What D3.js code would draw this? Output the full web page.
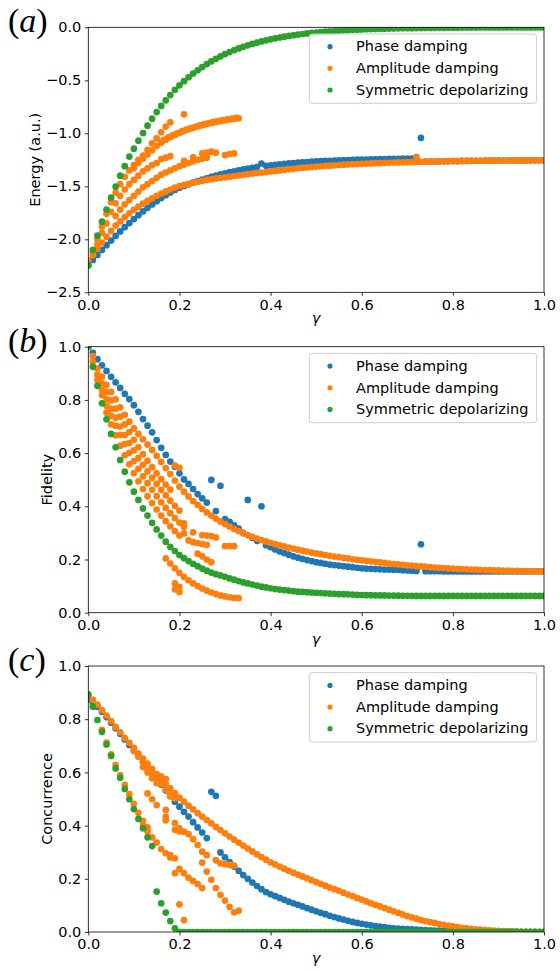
<!DOCTYPE html>
<html><head><meta charset="utf-8">
<script src="https://cdn.jsdelivr.net/npm/d3@7"></script>
<style>body{margin:0;background:#fff}svg{display:block}</style>
</head><body><svg id="c" width="560" height="971"></svg>
<script>
const gammas=[0,0.01,0.02,0.03,0.04,0.05,0.06,0.07,0.08,0.09,
0.1,0.11,0.12,0.13,0.14,0.15,0.16,0.17,0.18,0.19,
0.2,0.21,0.22,0.23,0.24,0.25,0.26,0.27,0.28,0.29,
0.3,0.31,0.32,0.33,0.34,0.35,0.36,0.37,0.38,0.39,
0.4,0.41,0.42,0.43,0.44,0.45,0.46,0.47,0.48,0.49,
0.5,0.51,0.52,0.53,0.54,0.55,0.56,0.57,0.58,0.59,
0.6,0.61,0.62,0.63,0.64,0.65,0.66,0.67,0.68,0.69,
0.7,0.71,0.72,0.73,0.74,0.75,0.76,0.77,0.78,0.79,
0.8,0.81,0.82,0.83,0.84,0.85,0.86,0.87,0.88,0.89,
0.9,0.91,0.92,0.93,0.94,0.95,0.96,0.97,0.98,0.99,1];

const seriesNames=["Phase damping","Amplitude damping","Symmetric depolarizing"];
const xTicks=[0,0.2,0.4,0.6,0.8,1.0];
const energyTicks=[0,-0.5,-1.0,-1.5,-2.0,-2.5];
const unitTicks=[0,0.2,0.4,0.6,0.8,1.0];

// ---- (a) Energy ----
const energyPhase=[-2.245,-2.195,-2.148,-2.100,-2.055,-2.012,-1.968,-1.926,-1.886,-1.847,
-1.809,-1.772,-1.737,-1.703,-1.671,-1.640,-1.611,-1.584,-1.558,-1.535,
-1.513,-1.497,-1.481,-1.466,-1.451,-1.437,-1.424,-1.411,-1.399,-1.388,
-1.377,-1.367,-1.358,-1.349,-1.341,-1.333,-1.326,-1.319,-1.285,-1.307,
-1.302,-1.297,-1.292,-1.288,-1.284,-1.280,-1.277,-1.274,-1.271,-1.268,
-1.265,-1.263,-1.261,-1.259,-1.257,-1.255,-1.253,-1.252,-1.250,-1.249,
-1.248,-1.247,-1.246,-1.245,-1.244,-1.243,-1.242,-1.241,-1.240,-1.239,
-1.238,-1.238,-1.237,-1.044,-1.268,-1.267,-1.266,-1.265,-1.264,-1.263,
-1.262,-1.262,-1.261,-1.260,-1.260,-1.259,-1.259,-1.258,-1.258,-1.258,
-1.257,-1.257,-1.257,-1.256,-1.256,-1.256,-1.256,-1.255,-1.255,-1.255,-1.255];
const energyAmp=[-2.200,-2.150,-2.090,-2.030,-1.975,-1.920,-1.870,-1.830,-1.790,-1.755,
-1.722,-1.692,-1.664,-1.638,-1.613,-1.590,-1.568,-1.548,-1.530,-1.513,
-1.497,-1.486,-1.476,-1.466,-1.457,-1.448,-1.440,-1.433,-1.426,-1.420,
-1.415,-1.409,-1.403,-1.397,-1.391,-1.386,-1.380,-1.375,-1.370,-1.365,
-1.360,-1.355,-1.350,-1.345,-1.340,-1.335,-1.330,-1.326,-1.322,-1.318,
-1.314,-1.311,-1.308,-1.305,-1.302,-1.299,-1.296,-1.294,-1.292,-1.290,
-1.288,-1.286,-1.284,-1.282,-1.281,-1.279,-1.278,-1.276,-1.275,-1.274,
-1.272,-1.271,-1.270,-1.269,-1.268,-1.267,-1.266,-1.265,-1.264,-1.263,
-1.262,-1.262,-1.261,-1.260,-1.260,-1.259,-1.259,-1.258,-1.258,-1.258,
-1.257,-1.257,-1.257,-1.256,-1.256,-1.256,-1.256,-1.255,-1.255,-1.255,-1.255];
const energyAmpExtra=[
[0.01,-2.12],[0.02,-2.05],
[0.02,-2.0],[0.03,-1.88],[0.04,-1.76],[0.05,-1.65],[0.06,-1.56],[0.07,-1.48],[0.08,-1.41],[0.09,-1.35],[0.10,-1.30],[0.11,-1.25],[0.12,-1.211],[0.13,-1.157],[0.14,-1.095],[0.15,-1.047],[0.16,-0.99],[0.17,-0.937],[0.18,-0.896],[0.21,-0.821],
[0.10,-1.33],[0.11,-1.28],[0.12,-1.24],[0.13,-1.20],[0.14,-1.16],[0.15,-1.12],[0.16,-1.09],[0.17,-1.06],[0.18,-1.035],[0.19,-1.015],[0.20,-0.995],[0.21,-0.978],[0.22,-0.962],[0.23,-0.948],[0.24,-0.935],[0.25,-0.923],[0.26,-0.912],[0.27,-0.902],[0.28,-0.893],[0.29,-0.885],[0.30,-0.877],[0.31,-0.870],[0.32,-0.864],[0.33,-0.858],
[0.165,-1.065],[0.175,-1.04],[0.185,-1.02],[0.195,-1.0],[0.205,-0.982],[0.215,-0.966],[0.225,-0.952],[0.235,-0.938],[0.245,-0.926],[0.255,-0.914],[0.265,-0.903],[0.275,-0.893],[0.285,-0.884],[0.295,-0.876],[0.305,-0.868],[0.315,-0.861],[0.325,-0.855],
[0.16,-1.243],[0.17,-1.23],[0.18,-1.215],[0.21,-1.26],[0.23,-1.227],[0.25,-1.19],[0.26,-1.183],[0.27,-1.173],[0.28,-1.183],[0.30,-1.205],[0.31,-1.196],[0.32,-1.19],
[0.22,-1.28],[0.23,-1.265],[0.24,-1.25],[0.25,-1.24],[0.26,-1.23],
[0.06,-1.78],[0.07,-1.72],[0.08,-1.67],[0.09,-1.63],[0.10,-1.59],[0.11,-1.55],[0.12,-1.51],[0.13,-1.48],[0.14,-1.45],[0.15,-1.42],[0.16,-1.39],[0.17,-1.37],[0.18,-1.35],[0.19,-1.33],[0.20,-1.31],[0.21,-1.295],
[0.03,-1.94],[0.04,-1.85],[0.05,-1.74],[0.06,-1.66],[0.07,-1.59],[0.08,-1.53],[0.09,-1.48],[0.10,-1.44],[0.11,-1.40],[0.12,-1.36],[0.13,-1.33],[0.14,-1.30],[0.15,-1.28],
[0.72,-1.222]];
const energySym=[-2.245,-2.100,-1.966,-1.834,-1.720,-1.607,-1.504,-1.400,-1.310,-1.220,
-1.145,-1.070,-0.997,-0.928,-0.862,-0.800,-0.742,-0.689,-0.639,-0.590,
-0.547,-0.508,-0.471,-0.437,-0.405,-0.375,-0.347,-0.321,-0.297,-0.274,
-0.253,-0.234,-0.216,-0.199,-0.184,-0.170,-0.157,-0.145,-0.133,-0.123,
-0.113,-0.104,-0.096,-0.088,-0.081,-0.075,-0.069,-0.063,-0.058,-0.053,
-0.049,-0.045,-0.041,-0.038,-0.035,-0.032,-0.029,-0.027,-0.024,-0.022,
-0.020,-0.018,-0.017,-0.015,-0.014,-0.013,-0.012,-0.011,-0.010,-0.009,
-0.008,-0.008,-0.007,-0.007,-0.006,-0.006,-0.005,-0.005,-0.005,-0.004,
-0.004,-0.004,-0.003,-0.003,-0.003,-0.003,-0.002,-0.002,-0.002,-0.002,
-0.002,-0.002,-0.001,-0.001,-0.001,-0.001,-0.001,-0.001,-0.001,-0.001,-0.001];

// ---- (b) Fidelity ----
const fidelityPhase=[1.000,0.977,0.953,0.930,0.909,0.887,0.866,0.845,0.823,0.803,
0.780,0.755,0.728,0.703,0.678,0.649,0.620,0.593,0.568,0.549,
0.524,0.501,0.484,0.465,0.446,0.430,0.414,0.499,0.382,0.477,
0.352,0.342,0.328,0.316,0.300,0.424,0.282,0.270,0.400,0.254,
0.246,0.238,0.230,0.224,0.218,0.212,0.207,0.202,0.198,0.194,
0.190,0.187,0.184,0.181,0.179,0.177,0.175,0.173,0.171,0.169,
0.167,0.166,0.165,0.164,0.163,0.162,0.162,0.161,0.161,0.160,
0.159,0.158,0.157,0.257,0.156,0.156,0.156,0.156,0.155,0.155,
0.155,0.155,0.155,0.155,0.155,0.155,0.155,0.155,0.155,0.155,
0.155,0.155,0.155,0.155,0.155,0.155,0.155,0.155,0.155,0.155,0.155];
const fidelityAmp=[1.000,0.965,0.918,0.888,0.857,0.830,0.802,0.772,0.744,0.718,
0.693,0.672,0.652,0.632,0.612,0.590,0.567,0.544,0.521,0.497,
0.474,0.455,0.437,0.420,0.405,0.390,0.377,0.365,0.354,0.343,
0.333,0.324,0.315,0.307,0.299,0.292,0.285,0.279,0.273,0.268,
0.263,0.258,0.253,0.249,0.245,0.241,0.237,0.233,0.230,0.226,
0.223,0.220,0.217,0.214,0.211,0.209,0.206,0.204,0.201,0.199,
0.197,0.195,0.193,0.191,0.189,0.187,0.185,0.183,0.182,0.180,
0.178,0.177,0.175,0.174,0.173,0.171,0.170,0.169,0.168,0.167,
0.166,0.165,0.164,0.163,0.162,0.162,0.161,0.160,0.160,0.159,
0.159,0.158,0.158,0.157,0.157,0.156,0.156,0.156,0.155,0.155,0.155];
const fidelityAmpExtra=[
[0.01,0.944],
[0.02,0.895],[0.03,0.862],[0.04,0.830],[0.05,0.798],[0.06,0.767],[0.07,0.737],[0.08,0.708],[0.09,0.679],[0.10,0.650],[0.11,0.622],[0.12,0.596],[0.13,0.571],[0.14,0.547],[0.15,0.524],[0.16,0.502],[0.17,0.482],[0.18,0.463],
[0.02,0.875],[0.03,0.838],[0.04,0.802],[0.05,0.767],[0.06,0.733],[0.07,0.700],[0.08,0.668],[0.09,0.638],[0.10,0.610],[0.11,0.582],[0.12,0.556],[0.13,0.531],[0.14,0.507],[0.15,0.484],[0.16,0.462],[0.17,0.441],[0.18,0.421],[0.19,0.402],[0.20,0.384],
[0.03,0.818],[0.04,0.778],[0.05,0.740],[0.06,0.703],[0.07,0.668],[0.08,0.634],[0.09,0.601],[0.10,0.570],[0.11,0.541],[0.12,0.513],[0.13,0.487],[0.14,0.462],[0.15,0.438],[0.16,0.415],[0.17,0.394],[0.18,0.374],[0.19,0.356],[0.20,0.339],[0.21,0.323],
[0.04,0.752],[0.05,0.708],[0.06,0.667],[0.07,0.628],[0.08,0.592],[0.09,0.558],[0.10,0.525],[0.11,0.494],[0.12,0.465],[0.13,0.438],[0.14,0.412],[0.15,0.388],[0.16,0.365],[0.17,0.344],[0.18,0.325],[0.19,0.307],[0.20,0.290],
[0.17,0.204],[0.18,0.185],[0.19,0.167],[0.20,0.150],[0.21,0.135],[0.22,0.122],[0.23,0.110],[0.24,0.100],[0.25,0.091],[0.26,0.083],[0.27,0.076],[0.28,0.070],[0.29,0.065],[0.30,0.061],[0.31,0.058],[0.32,0.056],[0.33,0.055],
[0.19,0.110],[0.19,0.088],[0.20,0.097],[0.20,0.078],
[0.19,0.553],[0.20,0.545],[0.21,0.336],[0.23,0.302],[0.25,0.292],[0.26,0.290],[0.27,0.288],[0.28,0.283],
[0.22,0.272],[0.23,0.265],[0.24,0.262],[0.25,0.258],[0.26,0.255],[0.21,0.298],[0.30,0.250],[0.31,0.250],[0.32,0.250],
[0.24,0.222],[0.25,0.212],[0.26,0.200],[0.27,0.190]];
const fidelitySym=[1.000,0.925,0.853,0.787,0.727,0.672,0.622,0.574,0.530,0.490,
0.455,0.424,0.392,0.365,0.338,0.313,0.290,0.267,0.248,0.232,
0.217,0.205,0.194,0.184,0.175,0.166,0.158,0.151,0.145,0.140,
0.135,0.129,0.124,0.119,0.114,0.110,0.106,0.102,0.098,0.095,
0.092,0.089,0.087,0.085,0.083,0.081,0.079,0.078,0.077,0.076,
0.075,0.074,0.073,0.072,0.071,0.070,0.0695,0.069,0.068,0.067,
0.0665,0.066,0.0657,0.0654,0.0651,0.0648,0.0645,0.0642,0.064,0.0638,
0.0636,0.0634,0.0632,0.063,0.063,0.063,0.063,0.063,0.063,0.063,
0.063,0.063,0.063,0.063,0.063,0.063,0.063,0.063,0.063,0.063,
0.063,0.063,0.063,0.063,0.063,0.063,0.063,0.063,0.063,0.063,0.063];

// ---- (c) Concurrence ----
const concPhase=[0.875,0.862,0.847,0.828,0.808,0.787,0.766,0.745,0.724,0.703,
0.682,0.661,0.640,0.619,0.597,0.575,0.554,0.532,0.511,0.490,
0.471,0.452,0.434,0.413,0.393,0.374,0.353,0.527,0.512,0.299,
0.281,0.263,0.246,0.230,0.214,0.200,0.186,0.173,0.161,0.150,
0.142,0.135,0.128,0.121,0.114,0.108,0.102,0.096,0.090,0.084,
0.078,0.072,0.067,0.061,0.056,0.051,0.047,0.042,0.038,0.034,
0.031,0.028,0.025,0.022,0.020,0.018,0.016,0.014,0.013,0.012,
0.011,0.010,0.009,0.008,0.007,0.006,0.005,0.005,0.005,0.004,
0.004,0.004,0.004,0.003,0.003,0.003,0.003,0.003,0.002,0.002,
0.002,0.002,0.002,0.002,0.001,0.001,0.001,0.001,0.001,0.001,0.001];
const concAmp=[0.890,0.873,0.855,0.834,0.814,0.793,0.771,0.751,0.730,0.711,
0.692,0.671,0.652,0.633,0.613,0.594,0.576,0.558,0.540,0.522,
0.505,0.490,0.475,0.461,0.447,0.434,0.421,0.408,0.395,0.383,
0.371,0.359,0.347,0.336,0.325,0.314,0.303,0.292,0.282,0.272,
0.262,0.254,0.246,0.238,0.230,0.223,0.216,0.209,0.202,0.195,
0.188,0.181,0.174,0.167,0.161,0.155,0.148,0.141,0.135,0.128,
0.122,0.115,0.108,0.102,0.096,0.090,0.084,0.078,0.072,0.066,
0.060,0.055,0.050,0.045,0.041,0.037,0.034,0.030,0.027,0.024,
0.021,0.018,0.016,0.014,0.012,0.010,0.009,0.007,0.006,0.005,
0.004,0.003,0.002,0.002,0.002,0.001,0.001,0.001,0.001,0.000,0.000];
const concAmpExtra=[
[0.03,0.760],[0.04,0.712],[0.05,0.668],[0.06,0.628],[0.07,0.590],[0.08,0.553],[0.09,0.518],[0.10,0.482],[0.11,0.448],[0.12,0.418],[0.12,0.402],[0.13,0.393],[0.13,0.378],[0.14,0.356],[0.15,0.336],[0.16,0.312],[0.17,0.296],[0.18,0.289],[0.18,0.280],[0.19,0.277],
[0.13,0.521],[0.14,0.499],[0.15,0.477],[0.17,0.459],[0.17,0.433],[0.17,0.420],[0.19,0.409],[0.19,0.384],[0.20,0.390],[0.20,0.378],[0.21,0.377],[0.22,0.368],[0.23,0.349],[0.24,0.327],[0.25,0.302],[0.26,0.289],[0.28,0.270],
[0.19,0.221],[0.20,0.237],[0.21,0.221],[0.22,0.204],[0.23,0.192],[0.24,0.180],[0.25,0.165],
[0.25,0.261],[0.26,0.227],[0.27,0.196],[0.28,0.165],[0.29,0.140],[0.30,0.118],[0.31,0.095],[0.32,0.074],[0.33,0.080],
[0.29,0.258],[0.30,0.255],[0.31,0.252],[0.32,0.250],
[0.20,0.104],[0.21,0.045],
[0.10,0.680],[0.11,0.660],[0.12,0.638],[0.12,0.620],[0.13,0.615],[0.13,0.600],[0.14,0.595],[0.14,0.578],[0.15,0.575],[0.15,0.560],[0.16,0.556],[0.16,0.585],[0.17,0.535],[0.17,0.575],[0.18,0.525],[0.18,0.510],[0.19,0.503]];
const concSym=[0.893,0.847,0.797,0.753,0.705,0.662,0.615,0.580,0.538,0.499,
0.462,0.425,0.390,0.356,0.323,0.152,0.108,0.073,0.041,0.014,
0,0,0,0,0,0,0,0,0,0,
0,0,0,0,0,0,0,0,0,0,
0,0,0,0,0,0,0,0,0,0,
0,0,0,0,0,0,0,0,0,0,
0,0,0,0,0,0,0,0,0,0,
0,0,0,0,0,0,0,0,0,0,
0,0,0,0,0,0,0,0,0,0,
0,0,0,0,0,0,0,0,0,0,0];

// ---- drawing ----
const colors=["#1f77b4","#ff7f0e","#2ca02c"];
const FONT="'DejaVu Sans', sans-serif";
const FS=14.5;
const R=3.35;
const svg=d3.select("#c");
const x=d3.scaleLinear().domain([0,1]).range([88.3,544]);
const fmt=d3.format(".1f");

const panels=[
 {tag:"a",top:27.3,bottom:292.3,domain:[-2.5,0],ticks:energyTicks,ylabel:"Energy (a.u.)",ylx:40,phase:energyPhase,amp:energyAmp,extra:energyAmpExtra,sym:energySym},
 {tag:"b",top:346.7,bottom:612.7,domain:[0,1],ticks:unitTicks,ylabel:"Fidelity",ylx:52,phase:fidelityPhase,amp:fidelityAmp,extra:fidelityAmpExtra,sym:fidelitySym},
 {tag:"c",top:666,bottom:932,domain:[0,1],ticks:unitTicks,ylabel:"Concurrence",ylx:52,phase:concPhase,amp:concAmp,extra:concAmpExtra,sym:concSym}
];

const defs=svg.append("defs");
panels.forEach((p,i)=>{
  const y=d3.scaleLinear().domain(p.domain).range([p.bottom,p.top]);
  const g=svg.append("g");
  const cid="clip"+i;
  defs.append("clipPath").attr("id",cid).append("rect")
    .attr("x",x(0)).attr("y",p.top).attr("width",x(1)-x(0)).attr("height",p.bottom-p.top);
  const pts=g.append("g").attr("clip-path",`url(#${cid})`);
  const draw=(data,color)=>pts.append("g").selectAll("circle").data(data).join("circle")
     .attr("cx",d=>x(d[0])).attr("cy",d=>y(d[1])).attr("r",R).attr("fill",color);
  draw(gammas.map((gm,k)=>[gm,p.phase[k]]),colors[0]);
  draw(gammas.map((gm,k)=>[gm,p.amp[k]]),colors[1]);
  draw(p.extra,colors[1]);
  draw(gammas.map((gm,k)=>[gm,p.sym[k]]),colors[2]);

  const xa=g.append("g").attr("transform",`translate(0,${p.bottom})`)
    .call(d3.axisBottom(x).tickValues(xTicks).tickFormat(fmt).tickSize(3.5).tickPadding(3.5));
  const ya=g.append("g").attr("transform",`translate(${x(0)},0)`)
    .call(d3.axisLeft(y).tickValues(p.ticks).tickFormat(fmt).tickSize(3.5).tickPadding(3.5));
  [xa,ya].forEach(a=>{
    a.select(".domain").remove();
    a.selectAll(".tick line").attr("stroke","#000").attr("stroke-width",0.8);
    a.selectAll(".tick text").attr("font-family",FONT).attr("font-size",FS).attr("fill","#000");
  });
  g.append("rect").attr("x",x(0)).attr("y",p.top).attr("width",x(1)-x(0)).attr("height",p.bottom-p.top)
    .attr("fill","none").attr("stroke","#000").attr("stroke-width",0.8);

  g.append("text").attr("x",(x(0)+x(1))/2).attr("y",p.bottom+31).attr("text-anchor","middle")
    .attr("font-family",FONT).attr("font-style","italic").attr("font-size",FS).text("γ");
  g.append("text").attr("transform",`translate(${p.ylx},${(p.top+p.bottom)/2}) rotate(-90)`)
    .attr("text-anchor","middle").attr("font-family",FONT).attr("font-size",FS).text(p.ylabel);

  const t=g.append("text").attr("x",8).attr("y",p.top+5).attr("font-family","'Liberation Serif', serif").attr("font-size",34);
  t.append("tspan").text("(");
  t.append("tspan").attr("font-style","italic").text(p.tag);
  t.append("tspan").text(")");

  const lg=g.append("g");
  lg.append("rect").attr("x",309.3).attr("y",p.top+6.7).attr("width",227.4).attr("height",69.3)
    .attr("rx",3).attr("fill","#fff").attr("fill-opacity",0.8).attr("stroke","#cccccc").attr("stroke-width",1);
  seriesNames.forEach((name,k)=>{
    const cy=p.top+19.4+k*21.65;
    lg.append("circle").attr("cx",330).attr("cy",cy).attr("r",2.6).attr("fill",colors[k]);
    lg.append("text").attr("x",356).attr("y",cy).attr("dy","0.33em").attr("font-family",FONT)
      .attr("font-size",FS).attr("fill","#000").text(name);
  });
});
</script></body></html>
